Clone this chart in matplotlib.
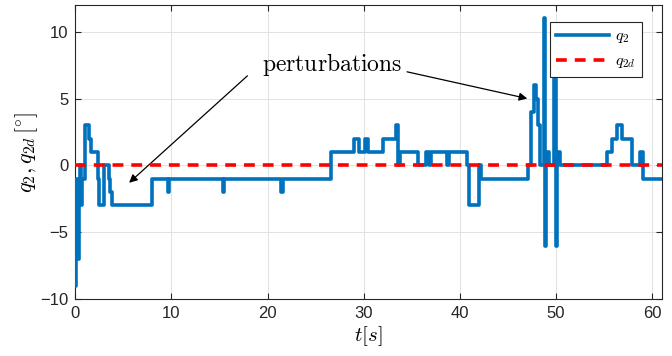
#!/usr/bin/env python3
"""Joint q2 tracking with perturbations, MATLAB-style step plot."""

import matplotlib

matplotlib.use("Agg")
import matplotlib.pyplot as plt

plt.rcParams["mathtext.fontset"] = "cm"
plt.rcParams["font.family"] = ["Liberation Sans", "DejaVu Sans"]

# step changes of q2 (value holds until next time)
t_steps = [
    0.0, 0.1, 0.2, 0.35, 0.45, 0.55, 0.7, 1.05, 1.45, 1.6, 2.35, 2.45,
    2.95, 3.5, 3.65, 3.8, 8.0, 9.6, 9.75, 15.35, 15.5, 21.4, 21.55, 26.6,
    29.0, 29.5, 30.15, 30.4, 31.95, 33.4, 33.55, 33.75, 35.6, 36.5, 36.8,
    37.0, 38.7, 38.85, 40.75, 40.9, 42.0, 42.15, 47.1, 47.35, 47.65, 47.9,
    48.15, 48.3, 48.7, 48.8, 48.95, 49.3, 49.8, 49.95, 50.1, 50.4, 55.3,
    55.8, 56.3, 56.8, 57.9, 58.7, 59.0, 61.0,
]
q2_steps = [
    -9, -1, -7, -1, 0, -3, -1, 3, 2, 1, -1, -3,
    0, -1, -2, -3, -1, -2, -1, -2, -1, -2, -1, 1,
    2, 1, 2, 1, 2, 3, 0, 1, 0, 1, 0,
    1, 0, 1, 0, -3, 0, -1, 0, 4, 6, 5,
    3, 0, 11, -6, 1, 0, 7, -6, 1, 0, 1,
    2, 3, 2, 0, 1, -1, -1,
]
t_ref = [0.0, 61.0]
q2d_ref = [0.0, 0.0]

fig = plt.figure(figsize=(6.72, 3.56), dpi=100)
ax = fig.add_axes([0.112, 0.16, 0.873, 0.826])

ax.plot(t_steps, q2_steps, drawstyle="steps-post", color="#0072BD",
        linewidth=2.6, label="$q_2$", zorder=3)
ax.plot(t_ref, q2d_ref, color="#FF0000", linewidth=2.6, linestyle=(0, (3, 2.2)),
        label="$q_{2d}$", zorder=4)

ax.set_xlim(0, 61)
ax.set_ylim(-10, 12)
ax.set_xticks(range(0, 61, 10))
ax.set_yticks([-10, -5, 0, 5, 10])
ax.tick_params(direction="in", length=4, width=0.8, labelsize=12, pad=5,
               colors="#262626", top=True, right=True)
for spine in ax.spines.values():
    spine.set_color("#262626")
    spine.set_linewidth(0.8)
ax.grid(True, color="#e2e2e2", linewidth=0.7)
ax.set_axisbelow(True)

ax.set_xlabel("$t[s]$", fontsize=15, labelpad=2)
ax.set_ylabel(r"$q_2, q_{2d}\,[^{\circ}]$", fontsize=16, labelpad=0)

leg = ax.legend(loc="upper right", bbox_to_anchor=(0.98, 0.97), fontsize=11.5,
                fancybox=False, edgecolor="#262626", framealpha=1,
                handlelength=3.3, borderpad=0.4, labelspacing=0.5,
                handletextpad=0.4)
leg.get_frame().set_linewidth(0.8)

arrow = dict(arrowstyle="-|>", color="black", linewidth=0.9, mutation_scale=12,
             shrinkA=0, shrinkB=0)
ax.text(26.7, 7.55, r"$\mathrm{perturbations}$", fontsize=17,
        ha="center", va="center")
ax.annotate("", xy=(5.6, -1.3), xytext=(17.9, 6.7), arrowprops=arrow)
ax.annotate("", xy=(47.0, 5.0), xytext=(34.5, 7.0), arrowprops=arrow)

fig.savefig("out.png", dpi=100)
